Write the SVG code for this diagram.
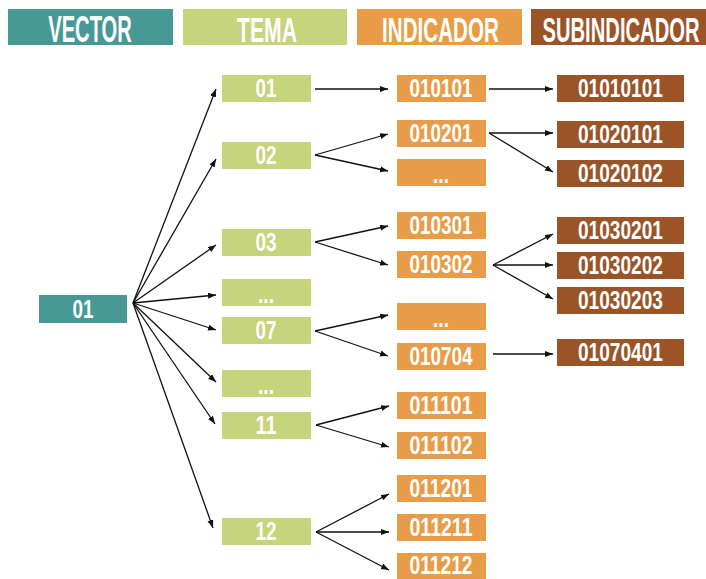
<svg xmlns="http://www.w3.org/2000/svg" width="706" height="579" viewBox="0 0 706 579">
<style>
.bg{fill:#ffffff}
.v{fill:#479995}
.t{fill:#c6d57c}
.i{fill:#e89c47}
.s{fill:#9a5428}
text{font-family:"Liberation Sans",Arial,sans-serif;font-weight:bold;fill:#ffffff;text-anchor:middle}
.h{font-size:36px}
.n{font-size:26px}
.c line{stroke:#111;stroke-width:1.3;marker-end:url(#ah)}
</style>
<defs>
<marker id="ah" markerUnits="userSpaceOnUse" markerWidth="9" markerHeight="7" refX="8" refY="3" orient="auto">
<path d="M0,0 L8,3 L0,6 z" fill="#111"/>
</marker>
</defs>
<rect class="bg" x="0" y="0" width="706" height="579"/>
<g id="headers">
<g id="h-vector"><rect class="v" x="8" y="9" width="165" height="36"/><text class="h" transform="translate(90,41.5) scale(0.56,1)" x="0" y="0">VECTOR</text></g>
<g id="h-tema"><rect class="t" x="183" y="9" width="164" height="36"/><text class="h" transform="translate(267,41.5) scale(0.588,1)" x="0" y="0">TEMA</text></g>
<g id="h-indicador"><rect class="i" x="357" y="9" width="165" height="36"/><text class="h" transform="translate(440.5,41.5) scale(0.573,1)" x="0" y="0">INDICADOR</text></g>
<g id="h-subindicador"><rect class="s" x="531" y="9" width="175" height="36"/><text class="h" transform="translate(621,41.5) scale(0.561,1)" x="0" y="0">SUBINDICADOR</text></g>
</g>
<g id="connectors" class="c">
<line x1="133" y1="303" x2="216" y2="89"/>
<line x1="133" y1="303" x2="216" y2="159"/>
<line x1="133" y1="303" x2="216" y2="245"/>
<line x1="133" y1="303" x2="216" y2="295"/>
<line x1="133" y1="303" x2="216" y2="330"/>
<line x1="133" y1="303" x2="216" y2="382"/>
<line x1="133" y1="303" x2="215" y2="424"/>
<line x1="133" y1="303" x2="213" y2="528"/>
<line x1="315" y1="89" x2="388" y2="89"/>
<line x1="315" y1="155" x2="388" y2="134"/>
<line x1="315" y1="155" x2="388" y2="171"/>
<line x1="315" y1="242" x2="388" y2="226"/>
<line x1="315" y1="242" x2="388" y2="265"/>
<line x1="315" y1="331" x2="388" y2="315"/>
<line x1="315" y1="331" x2="388" y2="356"/>
<line x1="316" y1="425" x2="389" y2="406"/>
<line x1="316" y1="425" x2="389" y2="447"/>
<line x1="316" y1="532" x2="389" y2="494"/>
<line x1="316" y1="532" x2="389" y2="532"/>
<line x1="316" y1="532" x2="389" y2="570"/>
<line x1="489" y1="89" x2="553" y2="89"/>
<line x1="489" y1="133" x2="553" y2="133"/>
<line x1="489" y1="133" x2="553" y2="172"/>
<line x1="493" y1="265" x2="553" y2="234"/>
<line x1="493" y1="265" x2="553" y2="265"/>
<line x1="493" y1="265" x2="553" y2="299"/>
<line x1="493" y1="354" x2="553" y2="354"/>
</g>
<g id="v01"><rect class="v" x="39" y="295" width="88" height="28"/><text class="n" x="83" y="318" textLength="21" lengthAdjust="spacingAndGlyphs">01</text></g>
<g id="t01"><rect class="t" x="222" y="75" width="89" height="27"/><text class="n" x="266" y="97" textLength="21" lengthAdjust="spacingAndGlyphs">01</text></g>
<g id="t02"><rect class="t" x="222" y="142" width="89" height="27"/><text class="n" x="266" y="164" textLength="21" lengthAdjust="spacingAndGlyphs">02</text></g>
<g id="t03"><rect class="t" x="222" y="229" width="89" height="27"/><text class="n" x="266" y="251" textLength="21" lengthAdjust="spacingAndGlyphs">03</text></g>
<g id="t-more1"><rect class="t" x="222" y="279" width="89" height="27"/><text class="n" x="266" y="303" textLength="16" lengthAdjust="spacingAndGlyphs">...</text></g>
<g id="t07"><rect class="t" x="222" y="317" width="89" height="27"/><text class="n" x="266" y="339" textLength="21" lengthAdjust="spacingAndGlyphs">07</text></g>
<g id="t-more2"><rect class="t" x="222" y="370" width="89" height="27"/><text class="n" x="266" y="394" textLength="16" lengthAdjust="spacingAndGlyphs">...</text></g>
<g id="t11"><rect class="t" x="222" y="412" width="89" height="27"/><text class="n" x="266" y="434" textLength="21" lengthAdjust="spacingAndGlyphs">11</text></g>
<g id="t12"><rect class="t" x="222" y="518" width="89" height="27"/><text class="n" x="266" y="540" textLength="21" lengthAdjust="spacingAndGlyphs">12</text></g>
<g id="i010101"><rect class="i" x="397" y="75" width="89" height="27"/><text class="n" x="441" y="97" textLength="63" lengthAdjust="spacingAndGlyphs">010101</text></g>
<g id="i010201"><rect class="i" x="397" y="120" width="89" height="27"/><text class="n" x="441" y="142" textLength="63" lengthAdjust="spacingAndGlyphs">010201</text></g>
<g id="i-more1"><rect class="i" x="397" y="159" width="89" height="27"/><text class="n" x="441" y="183" textLength="16" lengthAdjust="spacingAndGlyphs">...</text></g>
<g id="i010301"><rect class="i" x="397" y="212" width="89" height="27"/><text class="n" x="441" y="234" textLength="63" lengthAdjust="spacingAndGlyphs">010301</text></g>
<g id="i010302"><rect class="i" x="397" y="251" width="89" height="27"/><text class="n" x="441" y="273" textLength="63" lengthAdjust="spacingAndGlyphs">010302</text></g>
<g id="i-more2"><rect class="i" x="397" y="303" width="89" height="27"/><text class="n" x="441" y="327" textLength="16" lengthAdjust="spacingAndGlyphs">...</text></g>
<g id="i010704"><rect class="i" x="397" y="343" width="89" height="27"/><text class="n" x="441" y="365" textLength="63" lengthAdjust="spacingAndGlyphs">010704</text></g>
<g id="i011101"><rect class="i" x="397" y="392" width="89" height="27"/><text class="n" x="441" y="414" textLength="63" lengthAdjust="spacingAndGlyphs">011101</text></g>
<g id="i011102"><rect class="i" x="397" y="432" width="89" height="27"/><text class="n" x="441" y="454" textLength="63" lengthAdjust="spacingAndGlyphs">011102</text></g>
<g id="i011201"><rect class="i" x="397" y="475" width="89" height="27"/><text class="n" x="441" y="497" textLength="63" lengthAdjust="spacingAndGlyphs">011201</text></g>
<g id="i011211"><rect class="i" x="397" y="514" width="89" height="27"/><text class="n" x="441" y="536" textLength="63" lengthAdjust="spacingAndGlyphs">011211</text></g>
<g id="i011212"><rect class="i" x="397" y="553" width="89" height="26"/><text class="n" x="441" y="574" textLength="63" lengthAdjust="spacingAndGlyphs">011212</text></g>
<g id="s01010101"><rect class="s" x="557" y="75" width="127" height="27"/><text class="n" x="620.5" y="97" textLength="85" lengthAdjust="spacingAndGlyphs">01010101</text></g>
<g id="s01020101"><rect class="s" x="557" y="121" width="127" height="27"/><text class="n" x="620.5" y="143" textLength="85" lengthAdjust="spacingAndGlyphs">01020101</text></g>
<g id="s01020102"><rect class="s" x="557" y="160" width="127" height="27"/><text class="n" x="620.5" y="182" textLength="85" lengthAdjust="spacingAndGlyphs">01020102</text></g>
<g id="s01030201"><rect class="s" x="557" y="217" width="127" height="27"/><text class="n" x="620.5" y="239" textLength="85" lengthAdjust="spacingAndGlyphs">01030201</text></g>
<g id="s01030202"><rect class="s" x="557" y="252" width="127" height="27"/><text class="n" x="620.5" y="274" textLength="85" lengthAdjust="spacingAndGlyphs">01030202</text></g>
<g id="s01030203"><rect class="s" x="557" y="287" width="127" height="27"/><text class="n" x="620.5" y="309" textLength="85" lengthAdjust="spacingAndGlyphs">01030203</text></g>
<g id="s01070401"><rect class="s" x="557" y="339" width="127" height="27"/><text class="n" x="620.5" y="361" textLength="85" lengthAdjust="spacingAndGlyphs">01070401</text></g>
</svg>
